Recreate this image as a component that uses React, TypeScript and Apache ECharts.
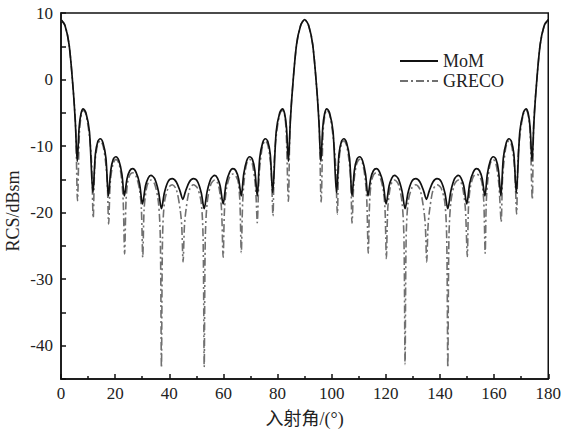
import React, { useEffect, useRef } from "react";
import * as echarts from "echarts";

const xTickLabels = ["0", "20", "40", "60", "80", "100", "120", "140", "160", "180"];
const yTickLabels = ["-40", "-30", "-20", "-10", "0", "10"];
const seriesNames = ["MoM", "GRECO"];
const xTitle = "入射角/(°)";
const yTitle = "RCS/dBsm";

// MoM curve: [incident angle (deg), RCS (dBsm)]
const momData: number[][] = [
  [0, 9], [1.5, 8.1], [3, 5.2], [4.5, -1.5], [5.3, -6.5], [6, -12.3],
  [6.7, -7.2], [7.4, -5.1], [8.2, -4.4], [9.2, -5], [10.5, -7.8], [11.8, -17],
  [12.7, -11.2], [13.6, -9.3], [14.5, -8.9], [15.5, -9.5], [16.6, -11.8], [17.5, -17.5],
  [18.4, -13.6], [19.3, -12], [20.3, -11.6], [21.4, -12.2], [22.5, -14.2], [23.4, -17.5],
  [24.4, -14.9], [25.4, -13.7], [26.5, -13.4], [27.7, -13.9], [29, -15.6], [30.1, -18.7],
  [31.2, -16], [32.2, -14.8], [33.2, -14.4], [34.6, -14.9], [36, -16.8], [37.1, -19.4],
  [38.2, -17], [39.6, -15.3], [41.1, -14.9], [42.6, -15.4], [44, -16.8], [45, -18],
  [46, -16.8], [47.4, -15.4], [48.9, -14.9], [50.4, -15.3], [51.8, -17], [52.9, -19.4],
  [54, -16.8], [55.4, -14.9], [56.8, -14.4], [57.8, -14.8], [58.8, -16], [59.9, -18.7],
  [61, -15.6], [62.3, -13.9], [63.5, -13.4], [64.6, -13.7], [65.6, -14.9], [66.6, -17.5],
  [67.5, -14.2], [68.6, -12.2], [69.7, -11.6], [70.7, -12], [71.6, -13.6], [72.5, -17.5],
  [73.4, -11.8], [74.5, -9.5], [75.5, -8.9], [76.4, -9.3], [77.3, -11.2], [78.2, -17],
  [79.5, -7.8], [80.8, -5], [81.8, -4.4], [82.6, -5.1], [83.3, -7.2], [84, -12.3],
  [84.7, -6.5], [85.5, -1.5], [87, 5.2], [88.5, 8.1], [90, 9],
  [91.5, 8.1], [93, 5.2], [94.5, -1.5], [95.3, -6.5], [96, -12.3],
  [96.7, -7.2], [97.4, -5.1], [98.2, -4.4], [99.2, -5], [100.5, -7.8], [101.8, -17],
  [102.7, -11.2], [103.6, -9.3], [104.5, -8.9], [105.5, -9.5], [106.6, -11.8], [107.5, -17.5],
  [108.4, -13.6], [109.3, -12], [110.3, -11.6], [111.4, -12.2], [112.5, -14.2], [113.4, -17.5],
  [114.4, -14.9], [115.4, -13.7], [116.5, -13.4], [117.7, -13.9], [119, -15.6], [120.1, -18.7],
  [121.2, -16], [122.2, -14.8], [123.2, -14.4], [124.6, -14.9], [126, -16.8], [127.1, -19.4],
  [128.2, -17], [129.6, -15.3], [131.1, -14.9], [132.6, -15.4], [134, -16.8], [135, -18],
  [136, -16.8], [137.4, -15.4], [138.9, -14.9], [140.4, -15.3], [141.8, -17], [142.9, -19.4],
  [144, -16.8], [145.4, -14.9], [146.8, -14.4], [147.8, -14.8], [148.8, -16], [149.9, -18.7],
  [151, -15.6], [152.3, -13.9], [153.5, -13.4], [154.6, -13.7], [155.6, -14.9], [156.6, -17.5],
  [157.5, -14.2], [158.6, -12.2], [159.7, -11.6], [160.7, -12], [161.6, -13.6], [162.5, -17.5],
  [163.4, -11.8], [164.5, -9.5], [165.5, -8.9], [166.4, -9.3], [167.3, -11.2], [168.2, -17],
  [169.5, -7.8], [170.8, -5], [171.8, -4.4], [172.6, -5.1], [173.3, -7.2], [174, -12.3],
  [174.7, -6.5], [175.5, -1.5], [177, 5.2], [178.5, 8.1], [180, 9],
];

// GRECO curve: [incident angle (deg), RCS (dBsm)]
const grecoData: number[][] = [
  [0, 9], [1.5, 8.1], [3, 5.2], [4.5, -1.5], [5.4, -7], [6.1, -18.2],
  [6.8, -8], [7.5, -5.3], [8.2, -4.6], [9.2, -5.2], [10.5, -8.5], [11.3, -12.5], [11.9, -20.8],
  [12.5, -12.8], [13.5, -9.8], [14.5, -9.2], [15.5, -9.9], [16.5, -12.5], [17.1, -15.5], [17.6, -21.7],
  [18.2, -15.5], [19.2, -12.7], [20.3, -12], [21.4, -12.6], [22.4, -15], [23, -18.5], [23.5, -26.2],
  [24, -18.5], [24.6, -15.5], [25.5, -14.3], [26.5, -14], [27.7, -14.5], [29, -16.5], [29.7, -19.5], [30.2, -26.7],
  [30.7, -19.5], [31.5, -16.5], [32.3, -15.4], [33.2, -15.1], [34.6, -15.7], [36, -18.5], [36.7, -24], [37.1, -43.3],
  [37.5, -24], [38.2, -18.5], [39.6, -16.3], [41.1, -15.8], [42.6, -16.5], [44, -19.5], [44.6, -22], [45.1, -27.4],
  [45.6, -22], [46.2, -19.5], [47.5, -16.5], [48.9, -15.8], [50.4, -16.3], [51.8, -18.5], [52.5, -24], [52.9, -43.2],
  [53.3, -24], [54, -18.5], [55.4, -15.7], [56.8, -15.1], [57.7, -15.4], [58.5, -16.5], [59.3, -19.5], [59.9, -26.7],
  [60.4, -19.5], [61.1, -16.5], [62.3, -14.6], [63.5, -14.2], [64.6, -14.5], [65.5, -15.5], [66.1, -18.5], [66.6, -26],
  [67.1, -18.5], [67.7, -15], [68.6, -12.6], [69.7, -12], [70.7, -12.7], [71.7, -15.5], [72.1, -18], [72.5, -21.5],
  [73.1, -15], [73.6, -12.5], [74.5, -9.9], [75.5, -9.2], [76.4, -9.8], [77.4, -12.5], [77.8, -15], [78.3, -20.5],
  [78.8, -12], [79.5, -8.5], [80.8, -5.2], [81.8, -4.6], [82.6, -5.3], [83.2, -8], [84, -18.3],
  [84.6, -7], [85.5, -1.5], [87, 5.2], [88.5, 8.1], [90, 9],
  [91.5, 8.1], [93, 5.2], [94.5, -1.5], [95.4, -7], [96.1, -18.4],
  [96.8, -8], [97.5, -5.3], [98.2, -4.6], [99.2, -5.2], [100.5, -8.5], [101.4, -12.5], [102.1, -20.2],
  [102.6, -12.8], [103.5, -9.8], [104.5, -9.2], [105.5, -9.9], [106.5, -12.5], [107.1, -15.5], [107.5, -21.6],
  [108.2, -15.5], [109.2, -12.7], [110.3, -12], [111.4, -12.6], [112.4, -15], [113, -18.5], [113.5, -26.1],
  [114, -18.5], [114.6, -15.5], [115.5, -14.3], [116.5, -14], [117.7, -14.5], [119, -16.5], [119.7, -19.5], [120.2, -26.9],
  [120.7, -19.5], [121.5, -16.5], [122.3, -15.4], [123.2, -15.1], [124.6, -15.7], [126, -18.5], [126.7, -24], [127.1, -42.8],
  [127.5, -24], [128.2, -18.5], [129.6, -16.3], [131.1, -15.8], [132.6, -16.5], [134, -19.5], [134.6, -22], [135.1, -27.4],
  [135.6, -22], [136.2, -19.5], [137.5, -16.5], [138.9, -15.8], [140.4, -16.3], [141.8, -18.5], [142.5, -24], [142.9, -43.3],
  [143.3, -24], [144, -18.5], [145.4, -15.7], [146.8, -15.1], [147.7, -15.4], [148.5, -16.5], [149.4, -19.5], [150.1, -26.6],
  [150.5, -19.5], [151.1, -16.5], [152.3, -14.6], [153.5, -14.2], [154.6, -14.5], [155.5, -15.5], [156.2, -18.5], [156.7, -26.1],
  [157.1, -18.5], [157.7, -15], [158.6, -12.6], [159.7, -12], [160.7, -12.7], [161.7, -15.5], [162.1, -18], [162.6, -21.4],
  [163.1, -15], [163.6, -12.5], [164.5, -9.9], [165.5, -9.2], [166.4, -9.8], [167.4, -12.5], [167.8, -15], [168.3, -20.2],
  [168.8, -12], [169.5, -8.5], [170.8, -5.2], [171.8, -4.6], [172.6, -5.3], [173.3, -8], [174.1, -18],
  [174.6, -7], [175.5, -1.5], [177, 5.2], [178.5, 8.1], [180, 9],
];

const FONT = "'Liberation Serif', 'Times New Roman', 'Noto Sans CJK SC', serif";

export default function App() {
  const ref = useRef<HTMLDivElement>(null);

  useEffect(() => {
    if (!ref.current) return;
    const chart = echarts.init(ref.current, undefined, { renderer: "svg" });
    chart.setOption({
      animation: false,
      backgroundColor: "#ffffff",
      textStyle: { fontFamily: FONT },
      grid: {
        left: 61,
        right: 13,
        top: 13,
        bottom: 53,
        show: true,
        borderColor: "#111",
        borderWidth: 1.5,
        backgroundColor: "transparent",
      },
      legend: {
        orient: "vertical",
        left: 394,
        top: 47,
        itemWidth: 38,
        itemHeight: 14,
        itemGap: 2,
        data: seriesNames,
        itemStyle: { opacity: 0 },
        textStyle: { fontFamily: FONT, fontSize: 18, color: "#222" },
      },
      graphic: [
        {
          type: "text",
          x: 13,
          y: 211,
          rotation: Math.PI / 2,
          style: {
            text: yTitle,
            font: "18px 'Liberation Serif', serif",
            fill: "#222",
            align: "center",
            verticalAlign: "middle",
          },
        },
      ],
      xAxis: {
        type: "value",
        min: 0,
        max: 180,
        interval: 20,
        name: xTitle,
        nameLocation: "middle",
        nameGap: 31,
        nameTextStyle: { fontFamily: FONT, fontSize: 18, color: "#222" },
        axisLine: { show: true, onZero: false, lineStyle: { color: "#111", width: 1.5 } },
        axisTick: { show: true, inside: true, length: 5, lineStyle: { color: "#111", width: 1.5 } },
        minorTick: { show: true, splitNumber: 2, length: 3, lineStyle: { color: "#111", width: 1.5 } },
        axisLabel: {
          margin: 6,
          fontFamily: FONT,
          fontSize: 17,
          color: "#222",
          formatter: (v: number) => xTickLabels[Math.round(v / 20)] ?? "",
        },
        splitLine: { show: false },
      },
      yAxis: {
        type: "value",
        min: -45,
        max: 10,
        interval: 5,
        axisLine: { show: true, onZero: false, lineStyle: { color: "#111", width: 1.5 } },
        axisTick: { show: true, inside: true, length: 5, lineStyle: { color: "#111", width: 1.5 } },
        axisLabel: {
          margin: 8,
          fontFamily: FONT,
          fontSize: 17,
          color: "#222",
          formatter: (v: number) => {
            if (Math.round(v) % 10 !== 0) return "";
            const s = String(Math.round(v));
            return yTickLabels.includes(s) ? s : "";
          },
        },
        splitLine: { show: false },
      },
      series: [
        {
          name: seriesNames[0],
          type: "line",
          data: momData,
          showSymbol: false,
          symbol: "none",
          smooth: 0.3,
          lineStyle: { color: "#111", width: 1.7 },
          itemStyle: { color: "#111" },
          z: 3,
        },
        {
          name: seriesNames[1],
          type: "line",
          data: grecoData,
          showSymbol: false,
          symbol: "none",
          smooth: 0.3,
          lineStyle: { color: "#707070", width: 1.6, type: [8, 3, 2, 3] },
          itemStyle: { color: "#707070" },
          z: 2,
        },
      ],
    });
    return () => chart.dispose();
  }, []);

  return (
    <div
      ref={ref}
      style={{ position: "fixed", left: 0, top: 0, width: 564, height: 433, background: "#fff" }}
    />
  );
}
